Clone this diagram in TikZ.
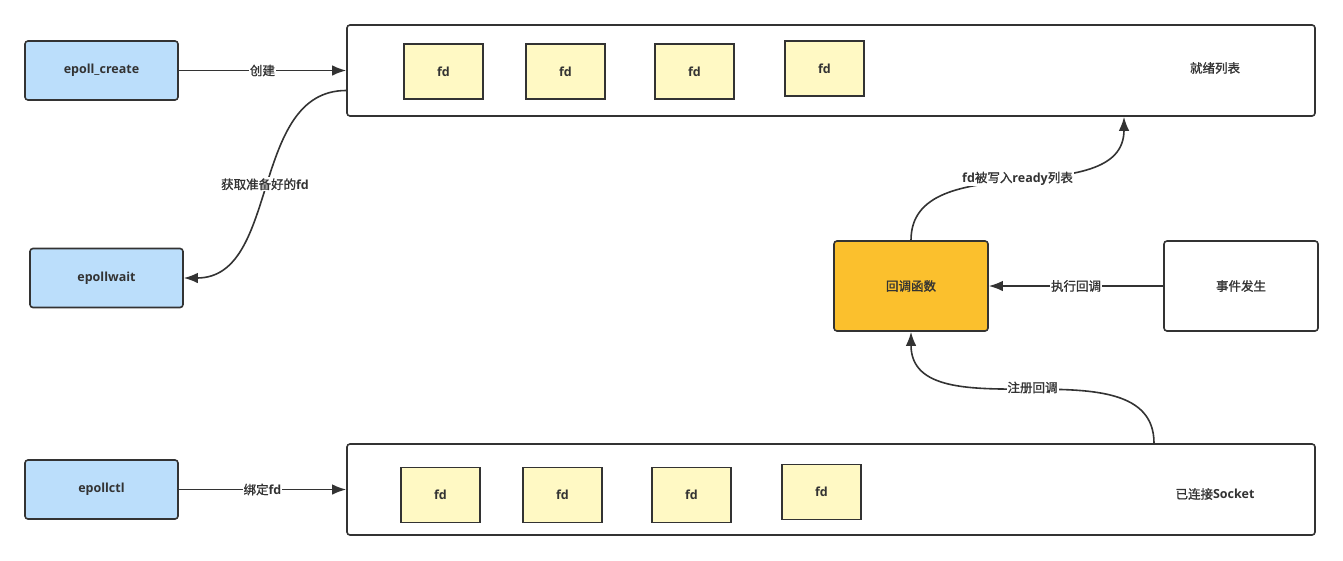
\documentclass[tikz,border=0pt]{standalone}
\usepackage{fontspec}
\setmainfont{Open Sans}[BoldFont={Open Sans Bold}]
\newfontfamily\cjk{Noto Sans CJK SC}[RawFeature={embolden=1.2}]
\newcommand\zhtxt[1]{{\cjk\mdseries #1}}
\usetikzlibrary{arrows.meta,calc}
\definecolor{bordc}{HTML}{333333}
\definecolor{bluef}{HTML}{BBDEFB}
\definecolor{yelf}{HTML}{FFF9C4}
\definecolor{orf}{HTML}{FBC02D}
\tikzset{
  box/.style={draw=bordc,line width=1.6pt,rounded corners=3pt,inner sep=0pt,text=bordc,font=\fontsize{12.5}{14}\selectfont\bfseries},
  bluebox/.style={box,fill=bluef,minimum width=153pt,minimum height=59pt},
  fdbox/.style={draw=bordc,line width=1.6pt,fill=yelf,minimum width=79pt,minimum height=55pt,inner sep=0pt,text=bordc,font=\fontsize{12.5}{14}\selectfont\bfseries},
  bigbox/.style={box,fill=white,minimum width=968pt,minimum height=91pt},
  midbox/.style={box,minimum width=154pt,minimum height=90pt},
  conn/.style={draw=bordc,line width=1.6pt,-{Latex[length=14pt,width=10.5pt]}},
  lab/.style={fill=white,inner sep=1pt,text=bordc,font=\fontsize{12.5}{14}\selectfont\bfseries},
  txt/.style={text=bordc,font=\fontsize{12.5}{14}\selectfont\bfseries}
}
\begin{document}
\begin{tikzpicture}[x=1pt,y=-1pt]
\useasboundingbox (0,0) rectangle (1343,560);
% big containers
\node[bigbox] (ready) at (831,70.5) {};
\node[bigbox] (socket) at (831,489.5) {};
\node[txt] (readytxt) at (1215,68) {\zhtxt{就绪列表}};
\node[txt] (socktxt) at (1215,494) {\zhtxt{已连接}Socket};
% fd boxes
\node[fdbox] (fa) at (443.5,71.5) {fd};
\node[fdbox] (fb) at (565.5,71.5) {fd};
\node[fdbox] (fc) at (694.5,71.5) {fd};
\node[fdbox] (fdd) at (824.5,68.5) {fd};
\node[fdbox] (ga) at (440.5,495) {fd};
\node[fdbox] (gb) at (562.5,495) {fd};
\node[fdbox] (gc) at (691.5,495) {fd};
\node[fdbox] (gd) at (821.5,492) {fd};
% left nodes
\node[bluebox] (create) at (101.5,70.5) {epoll\_create};
\node[bluebox] (wait) at (106.5,278) {epollwait};
\node[bluebox] (ctl) at (101.5,489.5) {epollctl};
% middle right
\node[midbox,fill=orf] (cb) at (911,286) {\zhtxt{回调函数}};
\node[midbox,fill=white] (ev) at (1241,286) {\zhtxt{事件发生}};
% connectors
\draw[conn] (create.east) -- node[lab]{\zhtxt{创建}} (ready.west);
\draw[conn] (ctl.east) -- node[lab]{\zhtxt{绑定}fd} (socket.west);
\draw[conn] ([yshift=-20pt]ready.west) to[out=180,in=0] node[lab]{\zhtxt{获取准备好的}fd} (wait.east);
\draw[conn] (ev.west) -- node[lab]{\zhtxt{执行回调}} (cb.east);
\draw[conn] ([xshift=323pt]socket.north) to[out=90,in=-90] node[lab]{\zhtxt{注册回调}} (cb.south);
\draw[conn] (cb.north) to[out=90,in=-90] node[lab]{fd\zhtxt{被写入}ready\zhtxt{列表}} ([xshift=293pt]ready.south);
\end{tikzpicture}
\end{document}
